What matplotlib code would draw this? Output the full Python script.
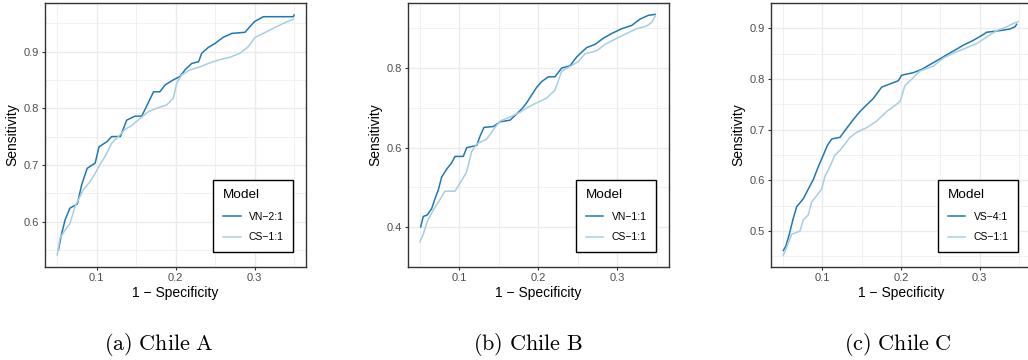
import matplotlib
matplotlib.use("Agg")
import matplotlib.pyplot as plt

plt.rcParams['font.family'] = ['Liberation Sans', 'DejaVu Sans']
plt.rcParams['mathtext.fontset'] = 'cm'

# Chile A
a_vn_x = [0.0515, 0.0557, 0.060, 0.066, 0.0755, 0.081, 0.088, 0.098, 0.103, 0.113, 0.119, 0.130,
          0.138, 0.1485, 0.157, 0.163, 0.172, 0.180, 0.1865, 0.197, 0.2055, 0.212, 0.2203, 0.229,
          0.233, 0.241, 0.250, 0.260, 0.271, 0.2878, 0.294, 0.300, 0.311, 0.349, 0.350]
a_vn_y = [0.550, 0.579, 0.603, 0.6235, 0.631, 0.665, 0.694, 0.703, 0.732, 0.741, 0.750, 0.750,
          0.779, 0.786, 0.786, 0.803, 0.829, 0.829, 0.841, 0.850, 0.856, 0.868, 0.879, 0.882,
          0.897, 0.907, 0.9145, 0.925, 0.932, 0.934, 0.944, 0.953, 0.9615, 0.9615, 0.9645]
a_cs_x = [0.050, 0.0536, 0.060, 0.066, 0.0726, 0.083, 0.0916, 0.098, 0.104, 0.1105, 0.119, 0.1274,
          0.136, 0.144, 0.155, 0.1654, 0.176, 0.1886, 0.197, 0.2013, 0.2076, 0.218, 0.2308, 0.2414,
          0.254, 0.2688, 0.2814, 0.292, 0.3004, 0.311, 0.3236, 0.3363, 0.349]
a_cs_y = [0.541, 0.571, 0.585, 0.596, 0.6265, 0.656, 0.6705, 0.685, 0.700, 0.7146, 0.738, 0.750,
          0.763, 0.769, 0.782, 0.794, 0.800, 0.8058, 0.8175, 0.844, 0.8587, 0.8675, 0.873, 0.879,
          0.885, 0.890, 0.897, 0.9086, 0.925, 0.932, 0.941, 0.9498, 0.957]

# Chile B
b_vn_x = [0.051, 0.0544, 0.0595, 0.065, 0.069, 0.0734, 0.0776, 0.084, 0.0903, 0.0945, 0.105, 0.1093,
          0.122, 0.1262, 0.1312, 0.143, 0.1515, 0.1641, 0.1705, 0.179, 0.1852, 0.1916, 0.198, 0.2042,
          0.2127, 0.221, 0.2295, 0.240, 0.2485, 0.2612, 0.2717, 0.2823, 0.293, 0.3055, 0.318, 0.3287,
          0.3392, 0.3477]
b_vn_y = [0.4008, 0.427, 0.431, 0.447, 0.4706, 0.494, 0.526, 0.546, 0.562, 0.578, 0.578, 0.600,
          0.6056, 0.629, 0.651, 0.653, 0.665, 0.669, 0.681, 0.697, 0.7127, 0.7325, 0.752, 0.766,
          0.778, 0.778, 0.800, 0.8056, 0.828, 0.8516, 0.8595, 0.875, 0.887, 0.899, 0.907, 0.923,
          0.9325, 0.935]
b_cs_x = [0.0502, 0.0544, 0.0595, 0.067, 0.0734, 0.0818, 0.0945, 0.103, 0.109, 0.1156, 0.122, 0.1346,
          0.143, 0.1515, 0.1641, 0.1768, 0.1852, 0.198, 0.2105, 0.221, 0.2295, 0.240, 0.2506, 0.259,
          0.274, 0.2844, 0.2992, 0.3118, 0.3245, 0.337, 0.3435, 0.348]
b_cs_y = [0.3635, 0.383, 0.415, 0.443, 0.4627, 0.4905, 0.4905, 0.518, 0.538, 0.5897, 0.6095, 0.6214,
          0.6452, 0.6667, 0.677, 0.689, 0.700, 0.7127, 0.7246, 0.7444, 0.792, 0.804, 0.816, 0.8357,
          0.8437, 0.8595, 0.875, 0.887, 0.899, 0.9056, 0.915, 0.931]

# Chile C
c_vs_x = [0.0504, 0.0538, 0.058, 0.0631, 0.0674, 0.0758, 0.0822, 0.0886, 0.095, 0.1013, 0.1064, 0.112,
          0.1225, 0.131, 0.1394, 0.1479, 0.1564, 0.1648, 0.1754, 0.186, 0.1966, 0.2008, 0.2157, 0.2263,
          0.2369, 0.2475, 0.258, 0.2686, 0.2792, 0.292, 0.3047, 0.3089, 0.3258, 0.3386, 0.345, 0.347]
c_vs_y = [0.4617, 0.471, 0.4936, 0.5255, 0.548, 0.5638, 0.583, 0.602, 0.6276, 0.650, 0.669, 0.6818,
          0.685, 0.703, 0.720, 0.736, 0.749, 0.7616, 0.784, 0.7903, 0.7966, 0.8075, 0.8126, 0.819,
          0.8286, 0.838, 0.8477, 0.857, 0.8668, 0.8764, 0.8879, 0.8923, 0.8955, 0.8987, 0.9032, 0.908]
c_cs_x = [0.0504, 0.0547, 0.061, 0.0716, 0.0758, 0.0822, 0.0864, 0.0928, 0.0992, 0.1034, 0.1097, 0.116,
          0.1225, 0.1288, 0.1352, 0.1436, 0.1564, 0.169, 0.1818, 0.1903, 0.1987, 0.205, 0.2136, 0.2241,
          0.241, 0.2538, 0.2665, 0.2814, 0.2962, 0.309, 0.3216, 0.3343, 0.3428, 0.349]
c_cs_y = [0.4522, 0.468, 0.4936, 0.500, 0.5223, 0.532, 0.5574, 0.570, 0.583, 0.6085, 0.6276, 0.650,
          0.6595, 0.6722, 0.685, 0.6946, 0.7041, 0.717, 0.736, 0.7456, 0.7552, 0.787, 0.7998, 0.8158,
          0.8254, 0.8413, 0.8509, 0.8604, 0.870, 0.8828, 0.8955, 0.903, 0.9096, 0.9134]

panels = [
    ('a', 'A', 'VN\u22122:1', a_vn_x, a_vn_y, a_cs_x, a_cs_y, [0.6, 0.7, 0.8, 0.9], 0.05),
    ('b', 'B', 'VN\u22121:1', b_vn_x, b_vn_y, b_cs_x, b_cs_y, [0.4, 0.6, 0.8], 0.1),
    ('c', 'C', 'VS\u22124:1', c_vs_x, c_vs_y, c_cs_x, c_cs_y, [0.5, 0.6, 0.7, 0.8, 0.9], 0.05),
]
lefts = [45.35, 408.0, 771.2]
widths = [260.65, 260.7, 259.6]
caption_x = [159, 528, 898]

dark = '#1F78B4'
light = '#A6CEE3'
grid_c = '#EBEBEB'

fig = plt.figure(figsize=(10.28, 3.6), dpi=100)

for i, (letter, region, name, x1, y1, x2, y2, yt, ystep) in enumerate(panels):
    ax = fig.add_axes([lefts[i] / 1028, 93 / 360, widths[i] / 1028, 264 / 360])
    l1, = ax.plot(x1, y1, color=dark, lw=1.1, label=name, zorder=3)
    l2, = ax.plot(x2, y2, color=light, lw=1.1, label='CS\u22121:1', zorder=3)
    ax.margins(0.05)
    ax.set_xlim(0.035, 0.365)

    ax.set_xticks([0.1, 0.2, 0.3])
    ax.set_xticklabels(['0.1', '0.2', '0.3'])
    ax.set_xticks([0.05, 0.15, 0.25, 0.35], minor=True)
    ax.set_yticks(yt)
    ax.set_yticklabels(['%.1f' % v for v in yt])
    minor_y = [round(v - ystep, 3) for v in yt] + [round(yt[-1] + ystep, 3)]
    ax.set_yticks(minor_y, minor=True)
    ax.autoscale(enable=False)
    ax.grid(True, which='major', color=grid_c, lw=1.0, zorder=0)
    ax.grid(True, which='minor', color=grid_c, lw=0.5, zorder=0)
    ax.set_axisbelow(True)
    ax.tick_params(which='major', length=2.5, width=0.8, color='#333333',
                   labelsize=8, labelcolor='#4D4D4D', pad=2)
    ax.tick_params(which='minor', length=0)
    for s in ax.spines.values():
        s.set_color('#333333')
        s.set_linewidth(1.0)

    ax.set_xlabel('1 \u2212 Specificity', fontsize=10, color='black')
    ax.set_ylabel('Sensitivity', fontsize=10, color='black')
    ax.xaxis.set_label_coords(0.5, -0.0985)
    ax.xaxis.label.set_verticalalignment('center')
    ax.yaxis.set_label_coords(-0.127, 0.5)
    ax.yaxis.label.set_verticalalignment('center')

    leg = ax.legend(handles=[l1, l2], title='Model', loc='lower right',
                    bbox_to_anchor=(0.951, 0.058), borderaxespad=0, fancybox=False,
                    edgecolor='black', framealpha=1, fontsize=7.5, title_fontsize=9.7,
                    alignment='left', handlelength=1.7, handletextpad=0.8,
                    labelspacing=1.0, borderpad=0.9)
    leg.get_frame().set_linewidth(1.0)

    cap = r'$\mathrm{(%s)\ Chile\ %s}$' % (letter, region)
    fig.text(caption_x[i] / 1028, 1 - 344 / 360, cap, fontsize=16,
             ha='center', va='center')

fig.savefig('out.png', dpi=100)
